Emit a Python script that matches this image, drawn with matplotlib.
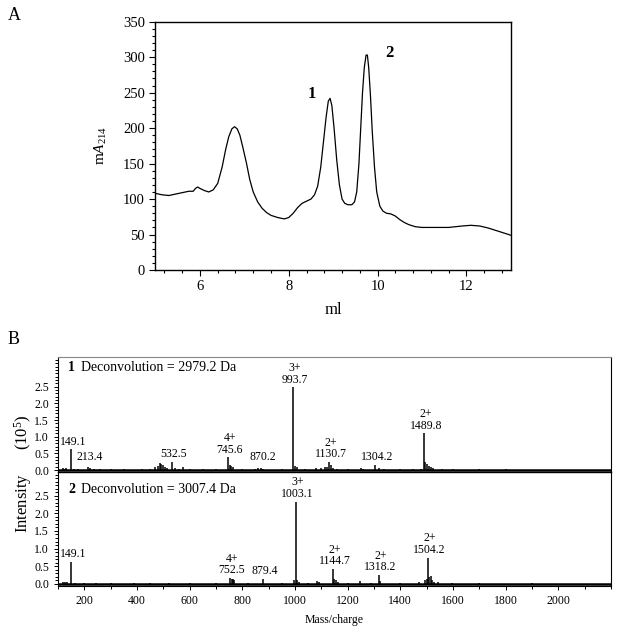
import numpy as np
import matplotlib
matplotlib.use("Agg")
import matplotlib.pyplot as plt
from matplotlib.ticker import MultipleLocator

plt.rcParams['font.family'] = ['Liberation Serif', 'DejaVu Serif']
plt.rcParams['mathtext.fontset'] = 'custom'
plt.rcParams['mathtext.rm'] = 'Liberation Serif'
plt.rcParams['mathtext.it'] = 'Liberation Serif:italic'

# --- panel A: chromatogram (ml, mA214) ---
ml = [5.0, 5.15, 5.3, 5.45, 5.6, 5.75, 5.85, 5.9, 5.95, 6.0, 6.1, 6.2, 6.3, 6.4,
      6.5, 6.58, 6.65, 6.72, 6.78, 6.84, 6.9, 6.97, 7.05, 7.12, 7.2, 7.3, 7.4,
      7.5, 7.6, 7.75, 7.9, 8.0, 8.1, 8.2, 8.3, 8.4, 8.5, 8.58, 8.65, 8.72, 8.78,
      8.84, 8.89, 8.93, 8.97, 9.02, 9.08, 9.14, 9.2, 9.26, 9.33, 9.42, 9.48,
      9.53, 9.58, 9.62, 9.66, 9.7, 9.74, 9.77, 9.8, 9.84, 9.88, 9.93, 9.98,
      10.05, 10.12, 10.2, 10.3, 10.4, 10.5, 10.6, 10.7, 10.85, 11.0, 11.3,
      11.6, 11.9, 12.1, 12.3, 12.5, 12.7, 12.9, 13.0]
mA = [108, 106, 105, 107, 109, 111, 111, 115, 117, 115, 112, 110, 113, 122,
      145, 170, 188, 199, 202, 199, 190, 172, 150, 128, 110, 96, 87,
      81, 77, 74, 72, 74, 80, 88, 94, 97, 100, 106, 118, 145, 180,
      215, 238, 242, 232, 200, 155, 120, 100, 94, 92, 92, 96,
      110, 150, 200, 250, 285, 303, 303, 285, 245, 195, 145, 110,
      90, 83, 80, 79, 76, 71, 67, 64, 61, 60, 60,
      60, 62, 63, 62, 59, 55, 51, 49]
peak_names = ['1', '2']
peak_pos = [(8.52, 248), (10.27, 306)]

# --- panel B: mass spectra (m/z, intensity x 1e5) ---
mz1 = [118, 125, 132, 149.1, 160, 175, 213.4, 222, 235, 260, 300, 350, 420, 450,
       470, 480, 488, 493, 498, 505, 515, 532.5, 545, 560, 575, 600, 650, 700,
       745.6, 752, 758, 763, 800, 850, 860, 870.2, 880, 950, 993.7, 1000, 1006,
       1040, 1080, 1100, 1115, 1122, 1130.7, 1137, 1145, 1160, 1200, 1250,
       1258, 1304.2, 1320, 1340, 1400, 1450, 1480, 1489.8, 1495, 1500, 1508,
       1515, 1525, 1560, 1600, 1700, 1800]
int1 = [0.05, 0.04, 0.05, 0.62, 0.03, 0.03, 0.08, 0.05, 0.03, 0.03, 0.02, 0.02,
        0.03, 0.04, 0.08, 0.11, 0.2, 0.18, 0.14, 0.09, 0.06, 0.24, 0.05, 0.04,
        0.08, 0.03, 0.03, 0.03, 0.38, 0.14, 0.12, 0.1, 0.03, 0.04, 0.05, 0.07,
        0.04, 0.03, 2.48, 0.12, 0.08, 0.04, 0.07, 0.06, 0.08, 0.1, 0.24, 0.15,
        0.06, 0.04, 0.03, 0.06, 0.04, 0.16, 0.05, 0.04, 0.03, 0.03, 0.04, 1.1,
        0.25, 0.18, 0.12, 0.08, 0.05, 0.03, 0.03, 0.02, 0.02]
lab1_mz = [149.1, 213.4, 532.5, 745.6, 870.2, 993.7, 1130.7, 1304.2, 1489.8]
lab1_txt = ['149.1', '213.4', '532.5', '4+\n745.6', '870.2', '3+\n993.7',
            '2+\n1130.7', '1304.2', '2+\n1489.8']
lab1_h = [0.62, 0.16, 0.24, 0.38, 0.16, 2.48, 0.24, 0.16, 1.1]

mz2 = [118, 126, 135, 149.1, 165, 200, 245, 300, 390, 450, 520, 600, 700,
       752.5, 760, 765, 770, 820, 879.4, 950, 998, 1003.1, 1008, 1014, 1050,
       1085, 1092, 1144.7, 1150, 1155, 1162, 1200, 1248, 1290, 1318.2, 1325,
       1400, 1470, 1495, 1500, 1504.2, 1510, 1515, 1520, 1530, 1545, 1595,
       1700, 1900]
int2 = [0.05, 0.04, 0.04, 0.63, 0.03, 0.02, 0.03, 0.02, 0.03, 0.02, 0.02, 0.02,
        0.02, 0.17, 0.15, 0.14, 0.12, 0.03, 0.15, 0.03, 0.1, 2.33, 0.12, 0.06,
        0.03, 0.08, 0.05, 0.42, 0.15, 0.1, 0.06, 0.03, 0.08, 0.03, 0.25, 0.08,
        0.03, 0.04, 0.1, 0.15, 0.74, 0.2, 0.22, 0.1, 0.05, 0.04, 0.03, 0.02, 0.02]
lab2_mz = [149.1, 752.5, 879.4, 1003.1, 1144.7, 1318.2, 1504.2]
lab2_txt = ['149.1', '4+\n752.5', '879.4', '3+\n1003.1', '2+\n1144.7',
            '2+\n1318.2', '2+\n1504.2']
lab2_h = [0.63, 0.17, 0.15, 2.33, 0.42, 0.25, 0.74]

fig = plt.figure(figsize=(6.17, 6.26), dpi=100)

# ---------- A ----------
axA = fig.add_axes([0.252, 0.5687, 0.576, 0.3966])
axA.plot(ml, mA, color='black', lw=0.9)
axA.set_xlim(5, 13)
axA.set_ylim(0, 350)
axA.xaxis.set_major_locator(MultipleLocator(2))
axA.xaxis.set_minor_locator(MultipleLocator(0.4))
axA.yaxis.set_major_locator(MultipleLocator(50))
axA.yaxis.set_minor_locator(MultipleLocator(10))
axA.tick_params(which='both', direction='out', labelsize=10.5, width=0.8)
axA.tick_params(which='major', length=4)
axA.tick_params(which='minor', length=2)
for s in axA.spines.values():
    s.set_linewidth(1.0)
axA.set_xlabel('ml', fontsize=12, labelpad=6)
axA.set_ylabel(r'm$\it{A}$$_{214}$', fontsize=11, labelpad=10)
for name, (px, py) in zip(peak_names, peak_pos):
    axA.text(px, py, name, fontsize=12, fontweight='bold', ha='center', va='center')
fig.text(0.012, 0.975, 'A', fontsize=13, va='center')

# ---------- B ----------
axB1 = fig.add_axes([0.094, 0.2465, 0.896, 0.1832])
axB2 = fig.add_axes([0.094, 0.0639, 0.896, 0.1826], sharex=axB1)

spectra = [(axB1, mz1, int1, lab1_mz, lab1_txt, lab1_h, '1', 'Deconvolution = 2979.2 Da',
            (-0.05, 3.39), 0.907),
           (axB2, mz2, int2, lab2_mz, lab2_txt, lab2_h, '2', 'Deconvolution = 3007.4 Da',
            (-0.06, 3.18), 0.845)]
for ax, mz, inten, lmz, ltxt, lh, num, dec, ylim, ty in spectra:
    ax.vlines(mz, 0, inten, color='black', lw=1.1)
    ax.axhline(0, color='black', lw=1.8, zorder=1)
    ax.set_xlim(100, 2200)
    ax.set_ylim(*ylim)
    ax.yaxis.set_major_locator(MultipleLocator(0.5))
    ax.yaxis.set_minor_locator(MultipleLocator(0.1))
    ax.set_yticks([0, 0.5, 1.0, 1.5, 2.0, 2.5])
    ax.set_yticklabels(['0.0', '0.5', '1.0', '1.5', '2.0', '2.5'])
    ax.tick_params(which='both', direction='out', labelsize=8.5, width=0.7)
    ax.tick_params(which='major', length=3)
    ax.tick_params(which='minor', length=2)
    for x, t, h in zip(lmz, ltxt, lh):
        ax.text(x + 7, h + 0.05, t, fontsize=8.5, ha='center', va='bottom',
                linespacing=0.95)
    ax.text(0.018, ty, num, transform=ax.transAxes, fontsize=10, fontweight='bold',
            va='center')
    ax.text(0.041, ty, dec, transform=ax.transAxes, fontsize=10, va='center')

axB1.tick_params(axis='x', which='both', bottom=False, labelbottom=False)
axB1.spines['top'].set_color('#888888')
axB1.spines['bottom'].set_visible(False)
axB2.spines['top'].set_linewidth(1.0)
axB2.xaxis.set_major_locator(MultipleLocator(200))
axB2.xaxis.set_minor_locator(MultipleLocator(100))
axB2.set_xticks([200, 400, 600, 800, 1000, 1200, 1400, 1600, 1800, 2000])
axB2.set_xlabel('Mass/charge', fontsize=8.5, labelpad=5)

fig.text(0.037, 0.244, 'Intensity      (10$^5$)', rotation=90, fontsize=12,
         ha='center', va='center')
fig.text(0.012, 0.457, 'B', fontsize=13, va='center')

fig.savefig('out.png', dpi=100)
